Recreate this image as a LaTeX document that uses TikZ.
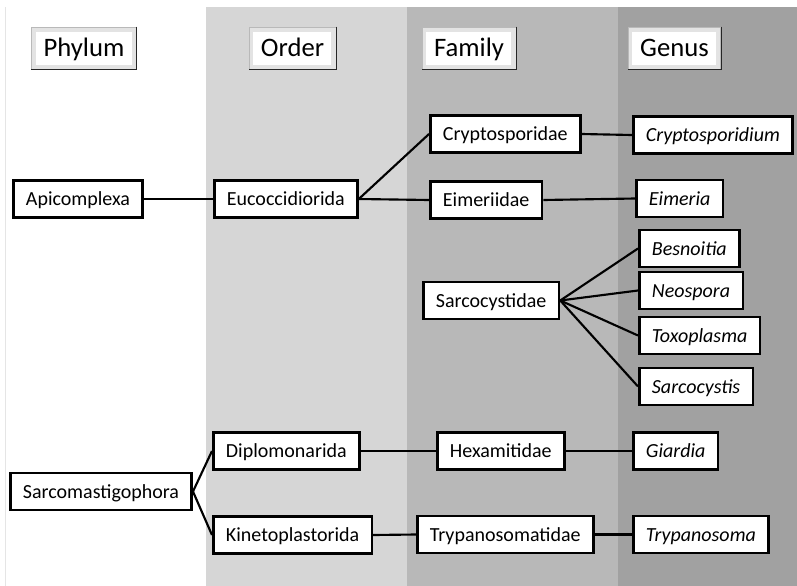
\documentclass[tikz,border=0pt]{standalone}
\usepackage{fontspec}
\setmainfont{Carlito}
\usetikzlibrary{calc, positioning}
\definecolor{orderGray}{gray}{0.84}
\definecolor{familyGray}{gray}{0.72}
\definecolor{genusGray}{gray}{0.63}

\begin{document}
\begin{tikzpicture}[x=0.75pt, y=-0.75pt,
  taxon/.style={draw=black, line width=1.9pt, fill=white, inner xsep=9.5pt,
    minimum height=27.5pt, text height=12.5pt, text depth=2.5pt, anchor=west,
    font=\fontsize{15}{18}\selectfont},
  genus/.style={taxon, font=\fontsize{15}{18}\selectfont\itshape},
  header/.style={draw=gray!55, line width=0.6pt, fill=gray!22, inner xsep=9pt,
    minimum height=31.5pt, text height=15.5pt, text depth=3pt,
    font=\fontsize{20}{24}\selectfont,
    path picture={\fill[white]
      ($(path picture bounding box.south west)+(3pt,3pt)$) rectangle
      ($(path picture bounding box.north east)+(-3.5pt,-3.5pt)$);}},
  link/.style={line width=1.6pt}]
\def\xOrder{206}
\def\xFamily{407}
\def\xGenus{618}
\def\yTop{7}

\useasboundingbox (0,0) rectangle (797,586);

% column bands
\fill[orderGray] (\xOrder,\yTop) rectangle (\xFamily,586);
\fill[familyGray] (\xFamily,\yTop) rectangle (\xGenus,586);
\fill[genusGray] (\xGenus,\yTop) rectangle (797,586);
\draw[gray!20, line width=0.5pt] (5,\yTop) -- (5,586);

% column headers
\node[header] (phylumHdr) at (84,48) {Phylum};
\node[header] (orderHdr) at (292.5,48) {Order};
\node[header] (familyHdr) at (469,48) {Family};
\node[header] (genusHdr) at (674.5,48) {Genus};
\foreach \h in {phylumHdr, orderHdr, familyHdr, genusHdr}
  \draw[gray!30!black, line width=1pt] (\h.north east) -- (\h.south east) -- (\h.south west);

% Apicomplexa branch
\node[taxon] (apicomplexa) at (12,199) {Apicomplexa};
\node[taxon] (eucoccidiorida) at (213,199) {Eucoccidiorida};
\node[taxon] (cryptosporidae) at (429,134) {Cryptosporidae};
\node[taxon] (eimeriidae) at (429,200) {Eimeriidae};
\node[taxon] (sarcocystidae) at (422,300.5) {Sarcocystidae};
\node[genus] (cryptosporidium) at (632,135) {Cryptosporidium};
\node[genus] (eimeria) at (635,198.5) {Eimeria};
\node[genus] (besnoitia) at (638,248.5) {Besnoitia};
\node[genus] (neospora) at (638,290.5) {Neospora};
\node[genus] (toxoplasma) at (638,335.5) {Toxoplasma};
\node[genus] (sarcocystis) at (638,386.5) {Sarcocystis};

% Sarcomastigophora branch
\node[taxon] (sarcomastigophora) at (9,491.5) {Sarcomastigophora};
\node[taxon] (diplomonarida) at (212,451) {Diplomonarida};
\node[taxon] (kinetoplastorida) at (212,535) {Kinetoplastorida};
\node[taxon] (hexamitidae) at (436,451) {Hexamitidae};
\node[taxon] (trypanosomatidae) at (416,534.5) {Trypanosomatidae};
\node[genus] (giardia) at (632,451) {Giardia};
\node[genus] (trypanosoma) at (632,534.5) {Trypanosoma};

\draw[link] (apicomplexa.east) -- (eucoccidiorida.west);
\draw[link] (eucoccidiorida.east) -- (cryptosporidae.west);
\draw[link] (eucoccidiorida.east) -- (eimeriidae.west);
\draw[link] (cryptosporidae.east) -- (cryptosporidium.west);
\draw[link] (eimeriidae.east) -- (eimeria.west);
\foreach \g in {besnoitia, neospora, toxoplasma, sarcocystis}
  \draw[link] (sarcocystidae.east) -- (\g.west);

\draw[link] (sarcomastigophora.east) -- (diplomonarida.west);
\draw[link] (sarcomastigophora.east) -- (kinetoplastorida.west);
\draw[link] (diplomonarida.east) -- (hexamitidae.west);
\draw[link] (hexamitidae.east) -- (giardia.west);
\draw[link] (kinetoplastorida.east) -- (trypanosomatidae.west);
\draw[link] (trypanosomatidae.east) -- (trypanosoma.west);
\end{tikzpicture}
\end{document}
